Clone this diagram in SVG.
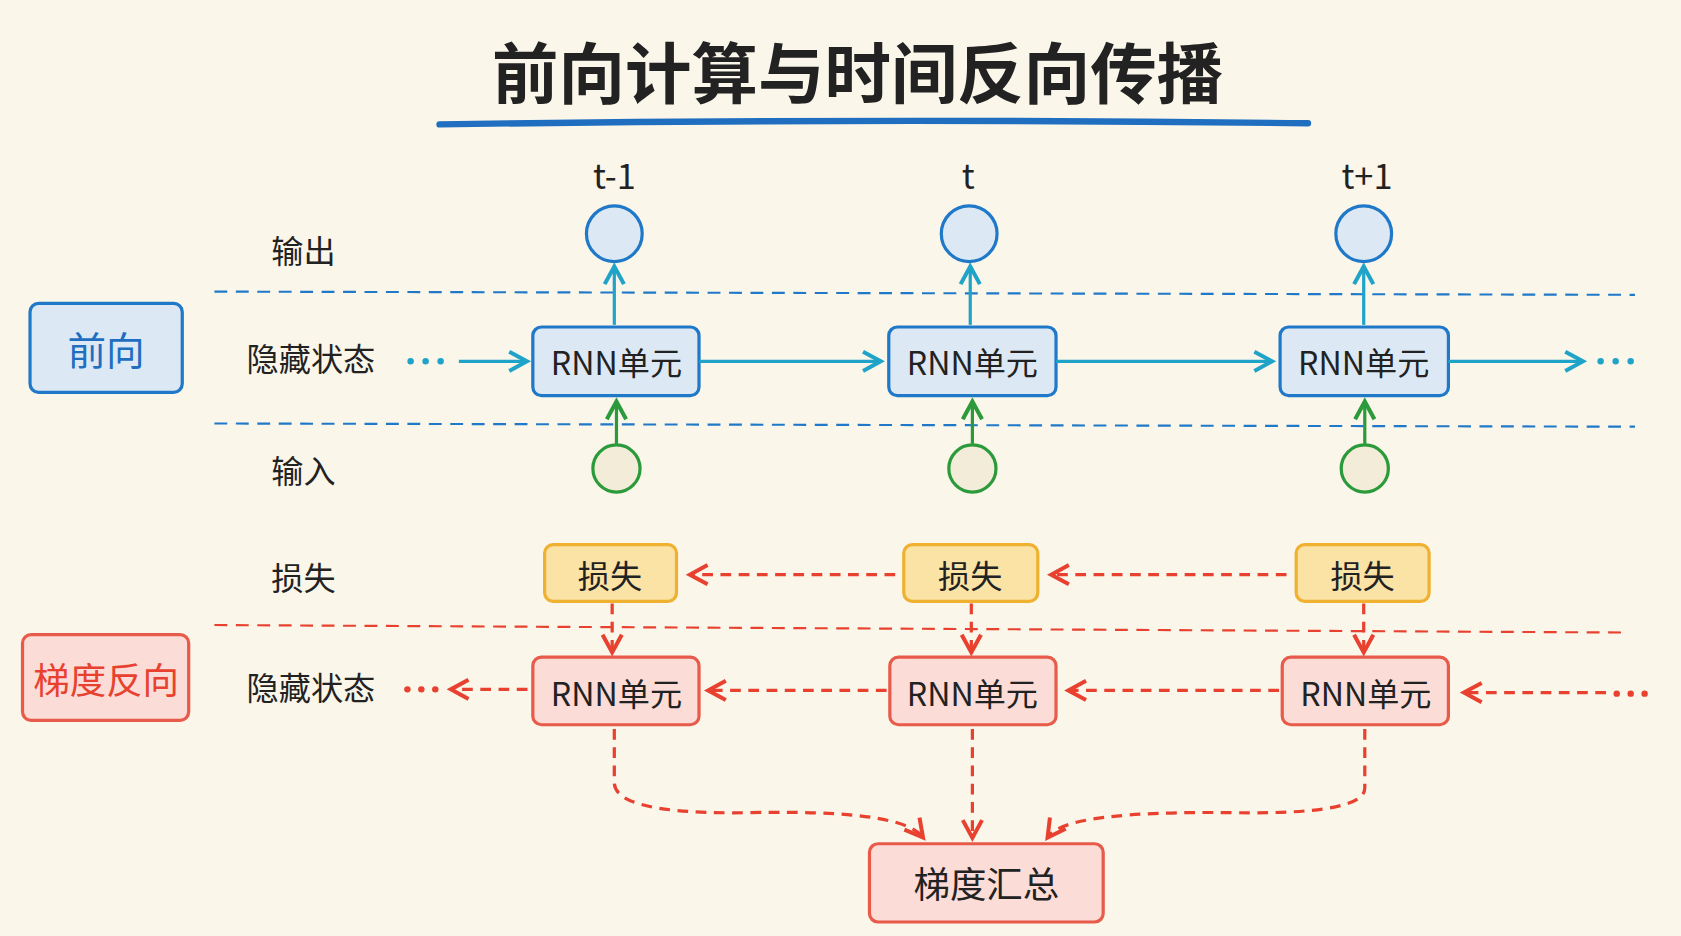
<svg xmlns="http://www.w3.org/2000/svg" width="1681" height="936" viewBox="0 0 1681 936">
<defs>
<style>
.t{font-family:"Noto Sans CJK SC","Liberation Sans",sans-serif;text-anchor:middle;dominant-baseline:central;fill:#222}
.lab{font-size:30px}
.blue{fill:#dce9f5;stroke:#1f78c8;stroke-width:3}
.red{fill:#fbdcd6;stroke:#e85a4a;stroke-width:3}
.loss{fill:#fbe3a6;stroke:#f0b030;stroke-width:3}
.cy{stroke:#1fa3c8;stroke-width:3;fill:none;marker-end:url(#ac)}
.gr{stroke:#2a9a3a;stroke-width:3;fill:none;marker-end:url(#ag)}
.rd{stroke:#e8412f;stroke-width:3;fill:none;stroke-dasharray:10 7;marker-end:url(#ar)}
</style>
<marker id="ac" viewBox="0 0 12 12" refX="10" refY="6" markerWidth="6" markerHeight="6" orient="auto" style="overflow:visible"><path d="M0,0 L11,6 L0,12" fill="none" stroke="#1fa3c8" stroke-width="2.5"/></marker>
<marker id="ag" viewBox="0 0 12 12" refX="10" refY="6" markerWidth="6" markerHeight="6" orient="auto" style="overflow:visible"><path d="M0,0 L11,6 L0,12" fill="none" stroke="#2a9a3a" stroke-width="2.5"/></marker>
<marker id="ar" viewBox="0 0 12 12" refX="10" refY="6" markerWidth="6" markerHeight="6" orient="auto" style="overflow:visible"><path d="M0,0 L11,6 L0,12" fill="none" stroke="#e8412f" stroke-width="2.5"/></marker>
</defs>
<rect width="1681" height="936" fill="#faf6ea"/>
<g transform="scale(1.0721)">
<g id="title">
<text class="t" x="800" y="64" font-size="62" font-weight="bold">前向计算与时间反向传播</text>
<path d="M410,116 Q815,110 1220,115" stroke="#1f6ec0" stroke-width="6" fill="none" stroke-linecap="round"/>
</g>
<g id="steps">
<text class="t" x="573" y="162" font-size="32">t-1</text>
<text class="t" x="903" y="162" font-size="32">t</text>
<text class="t" x="1275" y="162" font-size="32">t+1</text>
</g>
<g id="guides" fill="none" stroke-dasharray="12 8" stroke-width="2">
<line x1="200" y1="272" x2="1525" y2="275" stroke="#1f78c8"/>
<line x1="200" y1="395" x2="1525" y2="398" stroke="#1f78c8"/>
<line x1="200" y1="583" x2="1520" y2="590" stroke="#e8412f"/>
</g>
<g id="rowlabels">
<text class="t lab" x="283" y="232">输出</text>
<text class="t lab" x="290" y="333">隐藏状态</text>
<text class="t lab" x="283" y="437">输入</text>
<text class="t lab" x="283" y="537">损失</text>
<text class="t lab" x="290" y="640">隐藏状态</text>
</g>
<g id="fwd-label"><rect class="blue" x="28" y="283" width="142" height="83" rx="8"/><text class="t" x="99" y="325" font-size="36" style="fill:#1f6ec0">前向</text></g>
<g id="bwd-label"><rect class="red" x="21" y="592" width="155" height="80" rx="8"/><text class="t" x="99" y="632" font-size="34" style="fill:#e8412f">梯度反向</text></g>
<g id="outputs" class="blue">
<circle id="o1" cx="573" cy="218" r="26"/><circle id="o2" cx="904" cy="218" r="26"/><circle id="o3" cx="1272" cy="218" r="26"/>
</g>
<g id="inputs" fill="#f3ecd9" stroke="#2a9a3a" stroke-width="3">
<circle id="i1" cx="575" cy="437" r="22"/><circle id="i2" cx="907" cy="437" r="22"/><circle id="i3" cx="1273" cy="437" r="22"/>
</g>
<g id="rnnf1"><rect class="blue" x="497" y="305" width="155" height="64" rx="8"/><text class="t lab" x="575" y="337">RNN单元</text></g>
<g id="rnnf2"><rect class="blue" x="829" y="305" width="156" height="64" rx="8"/><text class="t lab" x="907" y="337">RNN单元</text></g>
<g id="rnnf3"><rect class="blue" x="1194" y="305" width="157" height="64" rx="8"/><text class="t lab" x="1272" y="337">RNN单元</text></g>
<g id="loss1"><rect class="loss" x="508" y="508" width="123" height="53" rx="8"/><text class="t lab" x="569" y="535">损失</text></g>
<g id="loss2"><rect class="loss" x="843" y="508" width="125" height="53" rx="8"/><text class="t lab" x="905" y="535">损失</text></g>
<g id="loss3"><rect class="loss" x="1209" y="508" width="124" height="53" rx="8"/><text class="t lab" x="1271" y="535">损失</text></g>
<g id="rnnb1"><rect class="red" x="497" y="613" width="155" height="63" rx="8"/><text class="t lab" x="575" y="645">RNN单元</text></g>
<g id="rnnb2"><rect class="red" x="830" y="613" width="155" height="63" rx="8"/><text class="t lab" x="907" y="645">RNN单元</text></g>
<g id="rnnb3"><rect class="red" x="1196" y="613" width="155" height="63" rx="8"/><text class="t lab" x="1274" y="645">RNN单元</text></g>
<g id="sum"><rect class="red" x="811" y="787" width="218" height="73" rx="8"/><text class="t" x="920" y="823" font-size="34">梯度汇总</text></g>
<g id="connectors">
<g fill="#1fa3c8"><circle cx="383" cy="337" r="3"/><circle cx="397" cy="337" r="3"/><circle cx="411" cy="337" r="3"/><circle cx="1493" cy="337" r="3"/><circle cx="1507" cy="337" r="3"/><circle cx="1521" cy="337" r="3"/></g>
<g fill="#e8412f"><circle cx="380" cy="643" r="3"/><circle cx="393" cy="643" r="3"/><circle cx="406" cy="643" r="3"/><circle cx="1508" cy="647" r="3"/><circle cx="1521" cy="647" r="3"/><circle cx="1534" cy="647" r="3"/></g>
<path class="cy" d="M428,337 H490"/><path class="cy" d="M652,337 H820"/><path class="cy" d="M985,337 H1185"/><path class="cy" d="M1351,337 H1475"/>
<path class="cy" d="M573,303 V250"/><path class="cy" d="M905,303 V250"/><path class="cy" d="M1272,303 V250"/>
<path class="gr" d="M575,414 V376"/><path class="gr" d="M907,414 V376"/><path class="gr" d="M1273,414 V376"/>
<path class="rd" d="M835,536 H645"/><path class="rd" d="M1200,536 H982"/>
<path class="rd" d="M571,563 V607"/><path class="rd" d="M906,563 V607"/><path class="rd" d="M1272,563 V607"/>
<path class="rd" d="M827,644 H662"/><path class="rd" d="M1193,644 H998"/><path class="rd" d="M1498,646 H1367"/><path class="rd" d="M492,643 H422"/>
<path class="rd" d="M573,680 V730 Q573,760 700,758 Q840,755 860,780"/>
<path class="rd" d="M907,680 V780"/>
<path class="rd" d="M1273,680 V735 Q1273,760 1150,758 Q995,756 978,780"/>
</g>
</g>
</svg>
